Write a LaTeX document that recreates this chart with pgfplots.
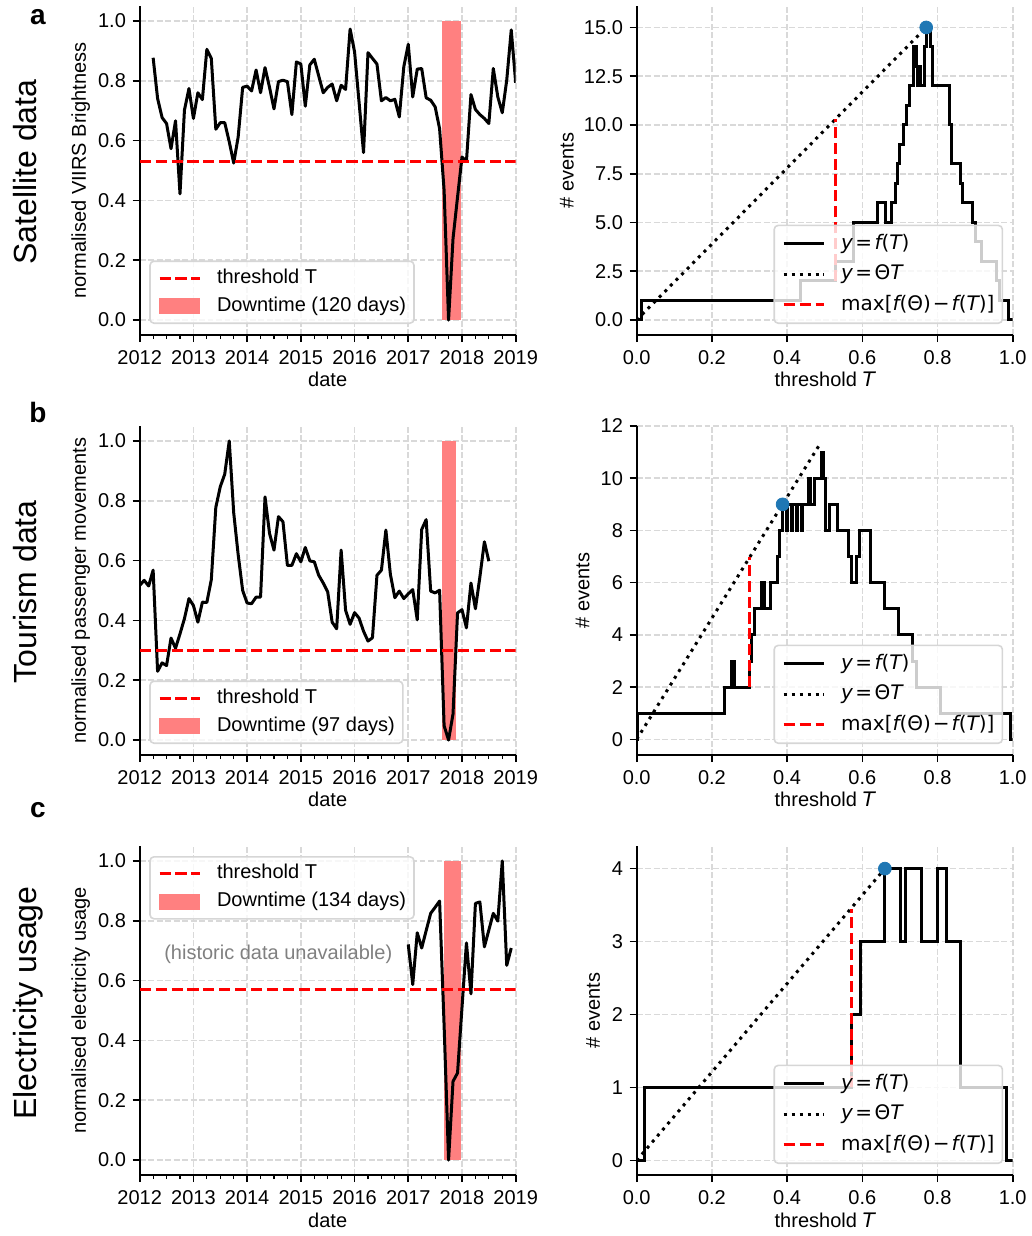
\documentclass[border=0pt]{standalone}
\usepackage{fontspec}
\setmainfont{Liberation Sans}
\newfontfamily\dejavu{DejaVu Sans}
\usepackage{pgfplots}
\pgfplotsset{compat=1.18}
\definecolor{downred}{RGB}{255,128,128}
\definecolor{dotblue}{RGB}{31,119,180}
\definecolor{lgframe}{RGB}{214,214,214}
\newcommand{\mi}[1]{{\dejavu\itshape #1}}
\newcommand{\mr}[1]{{\dejavu #1}}
\newcommand{\eq}{\hspace{0.12em}\mr{=}\hspace{0.12em}}

\pgfplotsset{
  base/.style={
    scale only axis, width=188pt, height=164.5pt, anchor=north west,
    axis x line*=bottom, axis y line*=left,
    axis line style={-, line width=0.8pt},
    tick align=outside, major tick length=3.5pt, minor tick length=2pt,
    every tick/.append style={black, line width=0.8pt},
    every minor tick/.append style={line width=0.6pt},
    grid=major,
    grid style={gray!30, line width=0.8pt, dash pattern=on 2.96pt off 1.28pt},
    /pgf/number format/assume math mode=true,
    xticklabel style={anchor=base, inner sep=0pt, yshift=-11pt},
    yticklabel style={anchor=east, inner sep=0pt, xshift=-3.2pt},
    xlabel style={at={(axis description cs:0.5,-0.158)}, anchor=base},
    legend cell align=left,
    legend image code/.code={\draw[#1] (0pt,0pt) -- (20pt,0pt);},
    legend style={draw=lgframe, line width=0.8pt, rounded corners=2pt,
      fill=white, fill opacity=0.8, text opacity=1, draw opacity=1,
      inner xsep=4pt, inner ysep=1.5pt, column sep=8pt, row sep=0pt,
      nodes={inner xsep=0pt, inner ysep=2pt, text height=7.5pt, text depth=2.5pt}},
  },
  leftax/.style={base,
    xmin=2012, xmax=2019, ymin=-0.05, ymax=1.05,
    xtick={2012,2013,2014,2015,2016,2017,2018,2019}, minor x tick num=3,
    ytick={0,0.2,0.4,0.6,0.8,1},
    xticklabel style={/pgf/number format/1000 sep={}},
    yticklabel style={/pgf/number format/.cd, fixed, fixed zerofill, precision=1},
    xlabel={date},
    ylabel style={at={(axis description cs:-0.1569,0.5)}, anchor=center},
  },
  rightax/.style={base,
    xmin=0, xmax=1, xtick={0,0.2,0.4,0.6,0.8,1},
    xticklabel style={/pgf/number format/.cd, fixed, fixed zerofill, precision=1},
    xlabel={threshold \mi{T}}, ylabel={\# events},
    legend style={at={(1,0)}, anchor=south east, xshift=-4.75pt, yshift=5.5pt,
      nodes={text height=8.3pt, text depth=2.8pt, inner ysep=2.1pt}},
  },
  fline/.style={black, line width=1.5pt, const plot},
  dotline/.style={black, line width=1.5pt, dash pattern=on 1.5pt off 2.475pt},
  redline/.style={red, line width=1.5pt, dash pattern=on 5.55pt off 2.4pt},
  series/.style={black, line width=1.5pt, line join=round, forget plot},
}

\newcommand{\downlegend}[1]{%
  \addlegendimage{legend image code/.code={\fill[downred, fill opacity=1, sharp corners] (0pt,-3.5pt) rectangle (20pt,3.5pt);}}
  \addlegendentry{Downtime (#1 days)}}
\newcommand{\rightlegend}{%
  \addlegendentry{\mi{y}\eq\mi{f}\mr{(}\mi{T}\mr{)}}}
\newcommand{\maxlegend}{%
  \addlegendentry{\mr{max[}\mi{f}\mr{(Θ)}\hspace{0.1em}\mr{−}\hspace{0.1em}\mi{f}\mr{(}\mi{T}\mr{)]}}}

\begin{document}
\begin{tikzpicture}
\useasboundingbox (0pt,0pt) rectangle (516pt,-618pt);

% ---------- row a ----------
\begin{axis}[leftax, at={(69.85pt,-3pt)},
  ylabel={normalised VIIRS Brightness},
  legend style={at={(0,0)}, anchor=south west, xshift=4.75pt, yshift=5.5pt}]
\addplot[draw=none, fill=downred, forget plot] coordinates {(2017.63,0) (2017.63,1) (2017.98,1) (2017.98,0)} -- cycle;
\addplot[series] table {
x y
2012.250 0.877
2012.333 0.741
2012.417 0.677
2012.500 0.657
2012.583 0.573
2012.667 0.666
2012.750 0.422
2012.833 0.702
2012.917 0.774
2013.000 0.674
2013.083 0.760
2013.167 0.737
2013.250 0.905
2013.333 0.875
2013.417 0.638
2013.500 0.660
2013.583 0.660
2013.667 0.596
2013.750 0.525
2013.833 0.612
2013.917 0.778
2014.000 0.782
2014.083 0.766
2014.167 0.836
2014.250 0.760
2014.333 0.844
2014.417 0.778
2014.500 0.706
2014.583 0.797
2014.667 0.802
2014.750 0.797
2014.833 0.687
2014.917 0.863
2015.000 0.856
2015.083 0.715
2015.167 0.853
2015.250 0.872
2015.333 0.816
2015.417 0.760
2015.500 0.778
2015.583 0.789
2015.667 0.733
2015.750 0.785
2015.833 0.771
2015.917 0.973
2016.000 0.897
2016.083 0.730
2016.167 0.560
2016.250 0.894
2016.333 0.875
2016.417 0.856
2016.500 0.733
2016.583 0.744
2016.667 0.733
2016.750 0.738
2016.833 0.679
2016.917 0.847
2017.000 0.922
2017.083 0.746
2017.167 0.839
2017.250 0.841
2017.333 0.743
2017.417 0.735
2017.500 0.713
2017.583 0.640
2017.667 0.434
2017.750 0.000
2017.833 0.272
2017.917 0.411
2018.000 0.545
2018.083 0.531
2018.167 0.754
2018.250 0.704
2018.333 0.687
2018.417 0.674
2018.500 0.657
2018.583 0.841
2018.667 0.746
2018.750 0.693
2018.833 0.802
2018.917 0.970
2019.000 0.793
};
\addplot[redline] coordinates {(2012,0.53) (2019,0.53)};
\addlegendentry{threshold T}
\downlegend{120}
\end{axis}

\begin{axis}[rightax, at={(318.35pt,-3pt)}, ymin=-0.77, ymax=16.1,
  ytick={0,2.5,5,7.5,10,12.5,15},
  yticklabel style={/pgf/number format/.cd, fixed, fixed zerofill, precision=1},
  ylabel style={at={(axis description cs:-0.1854,0.5)}, anchor=center}]
\addplot[fline] coordinates {(0,0) (0.013,1) (0.435,2) (0.530,3) (0.576,5) (0.640,6) (0.661,5) (0.678,6) (0.687,7) (0.694,8) (0.700,9) (0.709,10) (0.717,11) (0.726,12) (0.735,13) (0.737,14) (0.743,13) (0.747,12) (0.752,13) (0.755,12) (0.7645,14) (0.770,15) (0.781,14) (0.786,12) (0.832,10) (0.838,8) (0.860,7) (0.867,6) (0.893,5) (0.902,4) (0.918,3) (0.958,2) (0.966,1) (0.990,0) (1.0,0)};
\rightlegend
\addplot[dotline] coordinates {(0,0) (0.770,15)};
\addlegendentry{\mi{y}\eq\mr{Θ}\mi{T}}
\addplot[redline] coordinates {(0.530,2) (0.530,10.32)};
\maxlegend
\addplot[only marks, mark=*, mark size=3.2pt, dotblue, forget plot] coordinates {(0.770,15)};
\end{axis}

% ---------- row b ----------
\begin{axis}[leftax, at={(69.85pt,-213pt)},
  ylabel={normalised passenger movements},
  legend style={at={(0,0)}, anchor=south west, xshift=4.75pt, yshift=5.5pt}]
\addplot[draw=none, fill=downred, forget plot] coordinates {(2017.63,0) (2017.63,1) (2017.885,1) (2017.885,0)} -- cycle;
\addplot[series] table {
x y
2012.000 0.517
2012.083 0.534
2012.167 0.515
2012.250 0.568
2012.333 0.230
2012.417 0.258
2012.500 0.249
2012.583 0.341
2012.667 0.307
2012.750 0.355
2012.833 0.406
2012.917 0.473
2013.000 0.450
2013.083 0.394
2013.167 0.461
2013.250 0.460
2013.333 0.536
2013.417 0.778
2013.500 0.847
2013.583 0.889
2013.667 1.000
2013.750 0.760
2013.833 0.620
2013.917 0.500
2014.000 0.458
2014.083 0.456
2014.167 0.478
2014.250 0.478
2014.333 0.813
2014.417 0.691
2014.500 0.635
2014.583 0.747
2014.667 0.730
2014.750 0.584
2014.833 0.584
2014.917 0.623
2015.000 0.596
2015.083 0.644
2015.167 0.599
2015.250 0.596
2015.333 0.551
2015.417 0.525
2015.500 0.495
2015.583 0.394
2015.667 0.372
2015.750 0.635
2015.833 0.434
2015.917 0.387
2016.000 0.426
2016.083 0.408
2016.167 0.364
2016.250 0.331
2016.333 0.342
2016.417 0.551
2016.500 0.568
2016.583 0.702
2016.667 0.554
2016.750 0.476
2016.833 0.498
2016.917 0.473
2017.000 0.489
2017.083 0.503
2017.167 0.402
2017.250 0.704
2017.333 0.737
2017.417 0.498
2017.500 0.492
2017.583 0.501
2017.667 0.048
2017.750 0.000
2017.833 0.087
2017.917 0.425
2018.000 0.436
2018.083 0.375
2018.167 0.525
2018.250 0.439
2018.333 0.545
2018.417 0.663
2018.500 0.598
};
\addplot[redline] coordinates {(2012,0.30) (2019,0.30)};
\addlegendentry{threshold T}
\downlegend{97}
\end{axis}

\begin{axis}[rightax, at={(318.35pt,-213pt)}, ymin=-0.6, ymax=12,
  ytick={0,2,4,6,8,10,12},
  ylabel style={at={(axis description cs:-0.1441,0.5)}, anchor=center}]
\addplot[fline] coordinates {(0,0) (0.002,1) (0.233,2) (0.253,3) (0.259,2) (0.301,3) (0.304,4) (0.313,5) (0.333,6) (0.340,5) (0.357,6) (0.374,7) (0.381,8) (0.388,9) (0.398,8) (0.401,9) (0.411,8) (0.414,9) (0.424,8) (0.427,9) (0.437,8) (0.440,9) (0.457,10) (0.461,9) (0.474,10) (0.492,11) (0.497,10) (0.501,8) (0.514,9) (0.534,8) (0.562,7) (0.570,6) (0.585,7) (0.592,8) (0.621,6) (0.659,5) (0.696,4) (0.734,3) (0.745,2) (0.807,1) (0.993,0) (1.0,0)};
\rightlegend
\addplot[dotline] coordinates {(0,0) (0.49,11.37)};
\addlegendentry{\mi{y}\eq\mr{Θ}\mi{T}}
\addplot[redline] coordinates {(0.301,2) (0.301,6.98)};
\maxlegend
\addplot[only marks, mark=*, mark size=3.2pt, dotblue, forget plot] coordinates {(0.388,9)};
\end{axis}

% ---------- row c ----------
\begin{axis}[leftax, at={(69.85pt,-423pt)},
  ylabel={normalised electricity usage},
  legend style={at={(0,1)}, anchor=north west, xshift=4.75pt, yshift=-5pt}]
\addplot[draw=none, fill=downred, forget plot] coordinates {(2017.67,0) (2017.67,1) (2017.98,1) (2017.98,0)} -- cycle;
\addplot[series] table {
x y
2017.000 0.721
2017.083 0.587
2017.167 0.760
2017.250 0.709
2017.333 0.767
2017.417 0.825
2017.500 0.845
2017.583 0.866
2017.667 0.450
2017.750 0.000
2017.833 0.263
2017.917 0.291
2018.000 0.510
2018.083 0.726
2018.167 0.556
2018.250 0.858
2018.333 0.863
2018.417 0.713
2018.500 0.769
2018.583 0.825
2018.667 0.799
2018.750 1.000
2018.833 0.651
2018.917 0.709
};
\addplot[redline] coordinates {(2012,0.57) (2019,0.57)};
\addlegendentry{threshold T}
\downlegend{134}
\node[text=gray, anchor=center] at (axis cs:2014.58,0.687) {(historic data unavailable)};
\end{axis}

\begin{axis}[rightax, at={(318.35pt,-423pt)}, ymin=-0.2, ymax=4.31,
  ytick={0,1,2,3,4},
  ylabel style={at={(axis description cs:-0.1162,0.5)}, anchor=center}]
\addplot[fline] coordinates {(0,0) (0.0195,1) (0.570,2) (0.596,3) (0.660,4) (0.701,3) (0.714,4) (0.758,3) (0.801,4) (0.823,3) (0.862,1) (0.983,0) (1.0,0)};
\rightlegend
\addplot[dotline] coordinates {(0,0) (0.660,4)};
\addlegendentry{\mi{y}\eq\mr{Θ}\mi{T}}
\addplot[redline] coordinates {(0.570,1) (0.570,3.45)};
\maxlegend
\addplot[only marks, mark=*, mark size=3.2pt, dotblue, forget plot] coordinates {(0.660,4)};
\end{axis}

% ---------- row and panel labels ----------
\node[rotate=90, anchor=base, font=\fontsize{16}{19}\selectfont] at (18pt,-86pt) {Satellite data};
\node[rotate=90, anchor=base, font=\fontsize{16}{19}\selectfont] at (18pt,-296pt) {Tourism data};
\node[rotate=90, anchor=base, font=\fontsize{16}{19}\selectfont] at (18pt,-501.5pt) {Electricity usage};
\node[anchor=base, font=\fontsize{14}{17}\selectfont\bfseries] at (19pt,-12.5pt) {a};
\node[anchor=base, font=\fontsize{14}{17}\selectfont\bfseries] at (19pt,-211pt) {b};
\node[anchor=base, font=\fontsize{14}{17}\selectfont\bfseries] at (19pt,-408.5pt) {c};
\end{tikzpicture}
\end{document}
